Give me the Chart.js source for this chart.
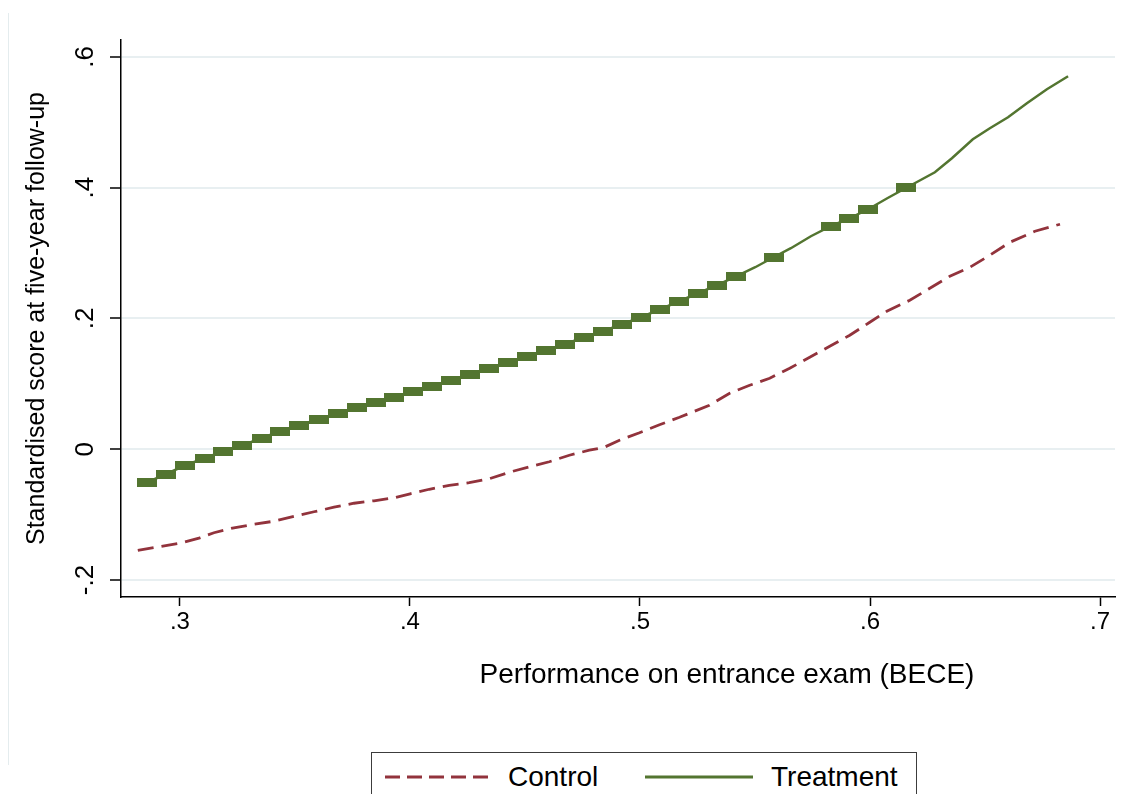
<!DOCTYPE html>
<html>
<head>
<meta charset="utf-8">
<script src="https://cdn.jsdelivr.net/npm/chart.js@4.4.1/dist/chart.umd.min.js"></script>
<style>
  html, body { margin: 0; padding: 0; background: #fff; }
  #wrap { position: relative; width: 1128px; height: 794px; overflow: hidden; font-family: "Liberation Sans", Arial, sans-serif; }
  #frame { position: absolute; left: 8px; top: 13px; height: 752px; border-left: 1px solid #e4ecee; }
  #legend { position: absolute; left: 371px; top: 752px; width: 546px; height: 70px; border: 1.5px solid #3c3c3c; box-sizing: border-box; background: #fff; }
  #legend svg { position: absolute; left: 0; top: 0; }
  #legend span { position: absolute; top: 8px; font-size: 28px; line-height: 32px; color: #000; }
</style>
</head>
<body>
<div id="wrap">
  <canvas id="chart" width="1128" height="794"></canvas>
  <div id="frame"></div>
  <div id="legend">
    <svg width="546" height="60">
      <line x1="13" y1="24" x2="120" y2="24" stroke="#92333c" stroke-width="3" stroke-dasharray="15 7"></line>
      <line x1="273" y1="24" x2="381" y2="24" stroke="#537530" stroke-width="3"></line>
    </svg>
    <span style="left:136px">Control</span>
    <span style="left:399px">Treatment</span>
  </div>
</div>
<script>
// values
const controlX = [0.2817, 0.2909, 0.3000, 0.3083, 0.3148, 0.3235, 0.3322, 0.3409, 0.3496, 0.3583,
  0.3670, 0.3757, 0.3844, 0.3931, 0.4001, 0.4084, 0.4171, 0.4258, 0.4345, 0.4432,
  0.4519, 0.4606, 0.4693, 0.4780, 0.4845, 0.4911, 0.4998, 0.5085, 0.5172, 0.5237,
  0.5302, 0.5390, 0.5477, 0.5564, 0.5651, 0.5738, 0.5825, 0.5912, 0.5999, 0.6073,
  0.6173, 0.6260, 0.6347, 0.6434, 0.6521, 0.6608, 0.6717, 0.6826];
const controlY = [-0.1545, -0.1491, -0.1438, -0.1361, -0.1277, -0.1201, -0.1147, -0.1101, -0.1025, -0.0956,
  -0.0887, -0.0826, -0.0788, -0.0742, -0.0681, -0.0612, -0.0551, -0.0512, -0.0451, -0.0352,
  -0.0268, -0.0191, -0.0092, -0.0015, 0.0031, 0.0138, 0.0252, 0.0375, 0.0489, 0.0581,
  0.0673, 0.0856, 0.0979, 0.1086, 0.1239, 0.1407, 0.1576, 0.1744, 0.1943, 0.2111,
  0.2279, 0.2463, 0.2646, 0.2784, 0.2968, 0.3166, 0.3335, 0.3442];

const treatX = [0.2859, 0.2939, 0.3024, 0.3107, 0.3189, 0.3272, 0.3355, 0.3435, 0.3518, 0.3603,
  0.3686, 0.3768, 0.3851, 0.3931, 0.4014, 0.4097, 0.4180, 0.4260, 0.4343, 0.4426,
  0.4508, 0.4591, 0.4674, 0.4756, 0.4839, 0.4922, 0.5004, 0.5087, 0.5170, 0.5253,
  0.5335, 0.5418, 0.5501, 0.5581, 0.5656, 0.5743, 0.5829, 0.5910, 0.5992, 0.6075,
  0.6158, 0.6282, 0.6356, 0.6447, 0.6521, 0.6600, 0.6682, 0.6769, 0.6861];
const treatY = [-0.0505, -0.0382, -0.0245, -0.0138, -0.0031, 0.0061, 0.0168, 0.0275, 0.0367, 0.0459,
  0.0551, 0.0642, 0.0719, 0.0795, 0.0887, 0.0964, 0.1055, 0.1147, 0.1239, 0.1331,
  0.1423, 0.1514, 0.1606, 0.1713, 0.1805, 0.1912, 0.2019, 0.2141, 0.2264, 0.2386,
  0.2509, 0.2646, 0.2784, 0.2937, 0.3075, 0.3258, 0.3411, 0.3533, 0.3671, 0.3839,
  0.4000, 0.4237, 0.4451, 0.4742, 0.4910, 0.5078, 0.5293, 0.5507, 0.5706];
// points of the treatment line drawn as thick steps in the original export
const treatSteps = [0, 1, 2, 3, 4, 5, 6, 7, 8, 9, 10, 11, 12, 13, 14, 15, 16, 17, 18, 19,
  20, 21, 22, 23, 24, 25, 26, 27, 28, 29, 30, 31, 33, 36, 37, 38, 40];

const xTicks = [0.3, 0.4, 0.5, 0.6, 0.7];
const yTicks = [-0.2, 0, 0.2, 0.4, 0.6];

const RED = '#92333c';
const GREEN = '#537530';
const FONT = '"Liberation Sans", Arial, sans-serif';

function tickFmt(v) {
  if (Math.abs(v) < 1e-9) return '0';
  const s = Math.abs(v).toFixed(1).replace(/^0/, '');
  return (v < 0 ? '-' : '') + s;
}

function toPoints(xs, ys) {
  return xs.map((x, i) => ({ x: x, y: ys[i] }));
}

// block marker
const block = document.createElement('canvas');
block.width = 20;
block.height = 9;
const bctx = block.getContext('2d');
bctx.fillStyle = GREEN;
bctx.fillRect(0, 0, 20, 9);

const extraText = {
  id: 'extraText',
  afterDraw(chart) {
    const { ctx } = chart;
    const y = chart.scales.y;
    ctx.save();
    ctx.fillStyle = '#000';
    ctx.textAlign = 'center';
    ctx.textBaseline = 'middle';
    ctx.font = '26px ' + FONT;
    yTicks.forEach(v => {
      ctx.save();
      ctx.translate(86, y.getPixelForValue(v));
      ctx.rotate(-Math.PI / 2);
      ctx.fillText(tickFmt(v), 0, 0);
      ctx.restore();
    });
    ctx.font = '28px ' + FONT;
    ctx.fillText('Performance on entrance exam (BECE)', 727, 675);
    ctx.restore();
  }
};

new Chart(document.getElementById('chart'), {
  type: 'line',
  data: {
    datasets: [
      {
        label: 'Control',
        data: toPoints(controlX, controlY),
        borderColor: RED,
        borderWidth: 2.8,
        borderDash: [16, 8],
        pointRadius: 0,
        tension: 0,
        order: 3
      },
      {
        label: 'Treatment',
        data: toPoints(treatX, treatY),
        borderColor: GREEN,
        borderWidth: 2.5,
        pointRadius: 0,
        tension: 0,
        order: 2
      },
      {
        label: 'steps',
        data: treatSteps.map(i => ({ x: treatX[i], y: treatY[i] })),
        showLine: false,
        pointStyle: block,
        pointRadius: 1,
        order: 1
      }
    ]
  },
  options: {
    responsive: false,
    animation: false,
    layout: { padding: { left: 0, top: 40, right: 13, bottom: 0 } },
    plugins: {
      legend: { display: false },
      tooltip: { enabled: false }
    },
    scales: {
      x: {
        type: 'linear',
        min: 0.2744,
        max: 0.7065,
        afterBuildTicks: s => { s.ticks = xTicks.map(v => ({ value: v })); },
        afterFit: s => { s.height = 197; },
        ticks: {
          callback: v => tickFmt(v),
          font: { family: FONT, size: 24 },
          color: '#000',
          padding: 2,
          maxRotation: 0,
          autoSkip: false
        },
        grid: {
          drawOnChartArea: false,
          drawTicks: true,
          tickLength: 9,
          tickColor: '#000',
          tickWidth: 1.5
        },
        border: { display: true, color: '#000', width: 1.5 }
      },
      y: {
        type: 'linear',
        min: -0.226,
        max: 0.626,
        afterBuildTicks: s => { s.ticks = yTicks.map(v => ({ value: v })); },
        afterFit: s => { s.width = 121; },
        ticks: { display: false },
        grid: {
          color: '#e8eff1',
          lineWidth: 2,
          drawTicks: true,
          tickLength: 11,
          tickColor: '#000',
          tickWidth: 1.5
        },
        border: { display: true, color: '#000', width: 1.5 },
        title: {
          display: true,
          text: 'Standardised score at five-year follow-up',
          color: '#000',
          font: { family: FONT, size: 25 },
          padding: { top: 22, bottom: 0 }
        }
      }
    }
  },
  plugins: [extraText]
});
</script>
</body>
</html>
